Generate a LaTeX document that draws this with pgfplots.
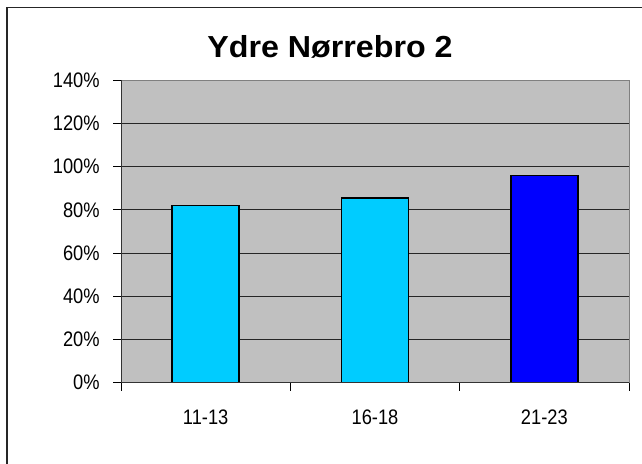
\documentclass[border=0pt]{standalone}
\usepackage{fontspec}
\setmainfont{Liberation Sans}
\newfontfamily\tickfont[FakeStretch=0.87]{Liberation Sans}
\newfontfamily\titlefont[FakeStretch=1.06]{Liberation Sans}
\usepackage{pgfplots}
\pgfplotsset{compat=1.18}
\definecolor{plotgray}{HTML}{C0C0C0}
\definecolor{barcyan}{HTML}{00CCFF}
\definecolor{barblue}{HTML}{0000FF}
\definecolor{framegray}{HTML}{808080}
\begin{document}
\begin{tikzpicture}[x=0.5pt,y=0.5pt]
\useasboundingbox (0,0) rectangle (642,464);
\draw[line width=0.9pt, black!85] (7,-5) -- (7,456.5) -- (650,456.5);
\node[font=\titlefont\bfseries\fontsize{15.2}{18}\selectfont, anchor=base] at (330,406) {Ydre Nørrebro 2};
\begin{axis}[
  at={(60.5pt,40.65pt)}, anchor=south west,
  scale only axis, width=254pt, height=151.2pt,
  xmin=0.5, xmax=3.5, ymin=0, ymax=140,
  axis background/.style={fill=plotgray},
  axis line style={draw=framegray, line width=0.5pt},
  xtick={0.5,1.5,2.5,3.5}, xticklabels={},
  extra x ticks={1,2,3}, extra x tick labels={11-13,16-18,21-23},
  extra x tick style={major tick length=0pt, xticklabel style={inner sep=0pt, anchor=north, yshift=-13.5pt}},
  ytick={0,20,40,60,80,100,120,140},
  yticklabel={\pgfmathprintnumber{\tick}\%},
  /pgf/number format/assume math mode=true,
  tick pos=left, tick align=outside,
  major tick length=4pt,
  tick style={draw=black, line width=0.5pt},
  ymajorgrids, xmajorgrids=false, major grid style={draw=black!85, line width=0.5pt},
  tick label style={font=\tickfont\fontsize{10.5}{12}\selectfont},
  yticklabel style={inner sep=0pt, anchor=east, xshift=-6.5pt},
  bar width=33.5pt,
]
\addplot[ybar, bar shift=0pt, fill=barcyan, draw=black, line width=0.8pt] coordinates {(1,82) (2,85.5)};
\addplot[ybar, bar shift=0pt, fill=barblue, draw=black, line width=0.8pt] coordinates {(3,96)};
\draw[black!80, line width=0.6pt] (rel axis cs:0,1) -- (rel axis cs:0,0) -- (rel axis cs:1,0);
\end{axis}
\end{tikzpicture}
\end{document}
